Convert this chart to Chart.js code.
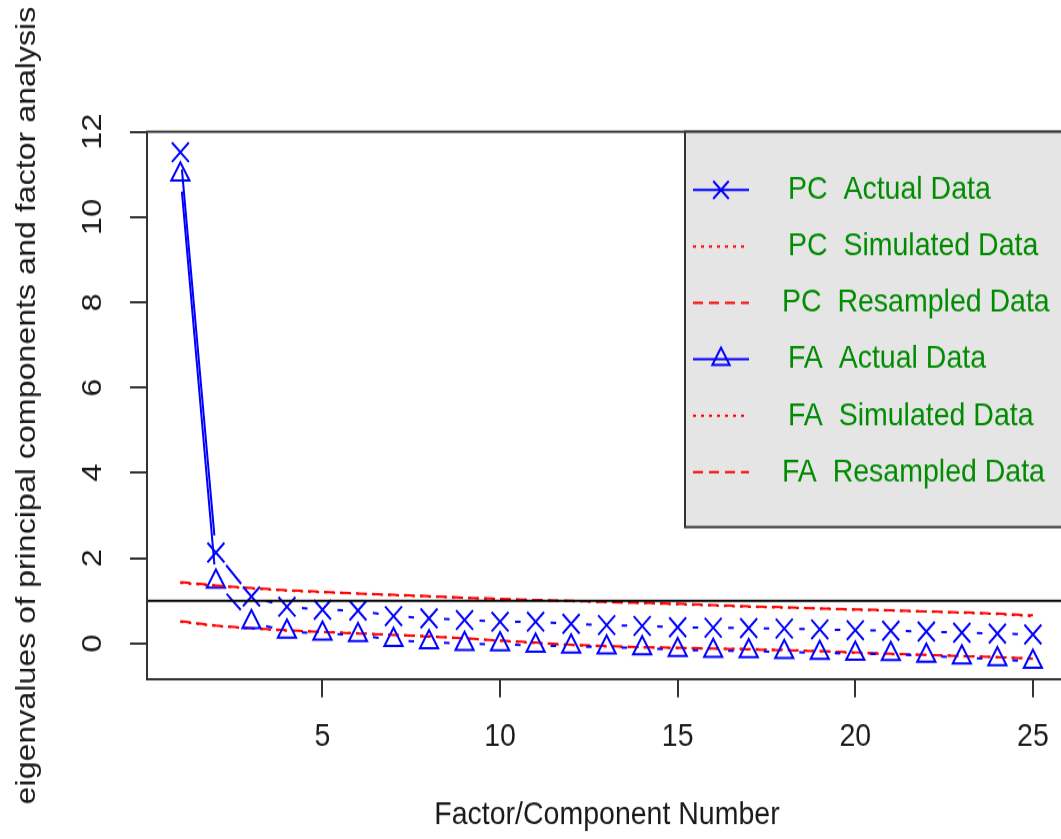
<!DOCTYPE html>
<html>
<head>
<meta charset="utf-8">
<title>Parallel analysis scree plot</title>
<script src="https://cdn.jsdelivr.net/npm/chart.js@4.4.1/dist/chart.umd.min.js"></script>
<style>
  html, body { margin: 0; padding: 0; background: #fff; overflow: hidden; }
  #wrap { width: 1081px; height: 839px; overflow: hidden; }
</style>
</head>
<body>
<div id="wrap">
  <!-- the original picture is stretched vertically, so the canvas is drawn short and scaled up;
       the right edge of the plot box lies just outside the window, as in the original -->
  <canvas id="scree" width="1081" height="730" style="display:block;width:1081px;height:839px;"></canvas>
</div>
<script>
// data (eigenvalues per factor / component)
const components = [1, 2, 3, 4, 5, 6, 7, 8, 9, 10, 11, 12, 13, 14, 15, 16, 17, 18, 19, 20, 21, 22, 23, 24, 25];
const pcActual = [11.52, 2.13, 1.10, 0.86, 0.79, 0.77, 0.64, 0.59, 0.55, 0.51, 0.51, 0.46, 0.43, 0.41, 0.38, 0.37, 0.36, 0.35, 0.33, 0.31, 0.30, 0.28, 0.25, 0.23, 0.21];
const pcSimulated = [1.42, 1.35, 1.29, 1.24, 1.20, 1.17, 1.13, 1.10, 1.07, 1.04, 1.02, 0.99, 0.97, 0.95, 0.92, 0.89, 0.86, 0.84, 0.82, 0.79, 0.77, 0.75, 0.72, 0.69, 0.64];
const pcResampled = [1.44, 1.36, 1.30, 1.25, 1.21, 1.17, 1.14, 1.11, 1.07, 1.05, 1.02, 1.00, 0.97, 0.95, 0.93, 0.90, 0.87, 0.85, 0.82, 0.80, 0.78, 0.75, 0.73, 0.70, 0.66];
const faActual = [11.0, 1.45, 0.50, 0.28, 0.23, 0.20, 0.08, 0.03, -0.01, -0.02, -0.05, -0.07, -0.09, -0.11, -0.15, -0.17, -0.18, -0.20, -0.22, -0.24, -0.25, -0.29, -0.33, -0.37, -0.43];
const faSimulated = [0.51, 0.41, 0.35, 0.30, 0.27, 0.24, 0.20, 0.17, 0.12, 0.06, 0.01, -0.04, -0.07, -0.09, -0.11, -0.12, -0.13, -0.15, -0.18, -0.22, -0.25, -0.27, -0.29, -0.32, -0.35];
const faResampled = [0.52, 0.42, 0.36, 0.31, 0.27, 0.23, 0.20, 0.16, 0.12, 0.07, 0.02, -0.03, -0.06, -0.09, -0.10, -0.12, -0.14, -0.16, -0.18, -0.21, -0.24, -0.27, -0.30, -0.32, -0.36];

const seriesLabels = ['PC  Actual Data', 'PC  Simulated Data', 'PC  Resampled Data',
  'FA  Actual Data', 'FA  Simulated Data', 'FA  Resampled Data'];

const xTickValues = [5, 10, 15, 20, 25];
const xTickLabels = ['5', '10', '15', '20', '25'];
const yTickValues = [0, 2, 4, 6, 8, 10, 12];
const yTickLabels = ['0', '2', '4', '6', '8', '10', '12'];
const kaiserLine = 1;

const xTitle = 'Factor/Component Number';
const yTitle = 'eigenvalues of principal components and factor analysis';

const fontFamily = "'Liberation Sans', Arial, sans-serif";
const fontSize = 28.5;
const blue = '#0000ff';
const red = '#ff0000';
const frameColor = '#333333';
const dotted = [3, 5];
const dashed = [10, 6];

function toPoints(values) {
  return values.map((v, i) => ({ x: components[i], y: v }));
}

// R type="b": segments between points, with a gap around each marker
const gapLinePlugin = {
  id: 'gapLine',
  afterDatasetsDraw(chart) {
    const ctx = chart.ctx;
    const area = chart.chartArea;
    ctx.save();
    ctx.beginPath();
    ctx.rect(area.left, area.top, area.right - area.left, area.bottom - area.top);
    ctx.clip();
    chart.data.datasets.forEach((ds, i) => {
      if (!ds.gapLine) return;
      const pts = chart.getDatasetMeta(i).data;
      ctx.strokeStyle = ds.borderColor;
      ctx.lineWidth = 2;
      ctx.setLineDash([]);
      for (let j = 0; j < pts.length - 1; j++) {
        const a = pts[j], b = pts[j + 1];
        const dx = b.x - a.x, dy = b.y - a.y;
        const len = Math.hypot(dx, dy);
        const gap = 15;
        if (len <= gap * 2) continue;
        const ux = dx / len, uy = dy / len;
        ctx.beginPath();
        ctx.moveTo(a.x + ux * gap, a.y + uy * gap);
        ctx.lineTo(b.x - ux * gap, b.y - uy * gap);
        ctx.stroke();
      }
    });
    // abline(h = 1)
    const yPix = chart.scales.y.getPixelForValue(kaiserLine);
    ctx.strokeStyle = '#000';
    ctx.lineWidth = 2;
    ctx.beginPath();
    ctx.moveTo(area.left, yPix);
    ctx.lineTo(area.right, yPix);
    ctx.stroke();
    ctx.restore();

    // plot frame
    ctx.save();
    ctx.strokeStyle = frameColor;
    ctx.lineWidth = 2;
    ctx.strokeRect(area.left, area.top, area.right - area.left, area.bottom - area.top);
    ctx.restore();
  }
};

// legend box in the top right corner, like legend("topright", bg = "gray90")
const boxLegendPlugin = {
  id: 'boxLegend',
  afterDraw(chart) {
    const ctx = chart.ctx;
    const area = chart.chartArea;
    const left = area.right - 382;
    const top = area.top;
    const bottom = top + 344;
    ctx.save();
    ctx.fillStyle = '#e5e5e5';
    ctx.fillRect(left, top, area.right - left, bottom - top);
    ctx.strokeStyle = frameColor;
    ctx.lineWidth = 2;
    ctx.strokeRect(left, top, area.right - left, bottom - top);

    ctx.font = fontSize + 'px ' + fontFamily;
    ctx.textBaseline = 'middle';
    ctx.textAlign = 'left';
    chart.data.datasets.forEach((ds, i) => {
      const y = top + 50.7 + i * 49.1;
      const x0 = left + 8, x1 = left + 64, xm = left + 36;
      ctx.strokeStyle = ds.legendColor;
      ctx.lineWidth = 2;
      ctx.setLineDash(ds.borderDash || []);
      ctx.beginPath();
      ctx.moveTo(x0, y);
      ctx.lineTo(x1, y);
      ctx.stroke();
      ctx.setLineDash([]);
      if (ds.gapLine) {
        ctx.fillStyle = 'rgba(0,0,0,0)';
        Chart.helpers.drawPoint(ctx, {
          pointStyle: ds.pointStyle,
          radius: ds.pointStyle === 'triangle' ? 10 : 11,
          borderWidth: 2
        }, xm, y);
      }
      ctx.fillStyle = '#008b00';
      ctx.fillText(ds.label, left + (ds.legendIndent || 103), y);
    });
    ctx.restore();
  }
};

const datasets = [
  {
    label: seriesLabels[0], data: toPoints(pcActual), gapLine: true, showLine: false,
    pointStyle: 'crossRot', pointRadius: 12, pointBorderWidth: 2,
    borderColor: blue, pointBorderColor: blue, backgroundColor: blue, legendColor: blue
  },
  {
    label: seriesLabels[1], data: toPoints(pcSimulated), borderColor: red, legendColor: red,
    borderWidth: 2, borderDash: dotted, pointRadius: 0
  },
  {
    label: seriesLabels[2], data: toPoints(pcResampled), borderColor: red, legendColor: red,
    borderWidth: 2, borderDash: dashed, pointRadius: 0, legendIndent: 97
  },
  {
    label: seriesLabels[3], data: toPoints(faActual), gapLine: true, showLine: false,
    pointStyle: 'triangle', pointRadius: 10.5, pointBorderWidth: 2,
    borderColor: blue, pointBorderColor: blue, pointBackgroundColor: 'rgba(0,0,0,0)', legendColor: blue
  },
  {
    label: seriesLabels[4], data: toPoints(faSimulated), borderColor: red, legendColor: red,
    borderWidth: 2, borderDash: dotted, pointRadius: 0
  },
  {
    label: seriesLabels[5], data: toPoints(faResampled), borderColor: red, legendColor: red,
    borderWidth: 2, borderDash: dashed, pointRadius: 0, legendIndent: 97
  }
];

const tickFont = { family: fontFamily, size: fontSize };

new Chart(document.getElementById('scree'), {
  type: 'line',
  data: { datasets },
  options: {
    responsive: false,
    animation: false,
    devicePixelRatio: 1,
    layout: { padding: { top: 114.6, right: 2, left: 0, bottom: 0 } },
    elements: { line: { tension: 0, fill: false } },
    plugins: {
      legend: { display: false },
      tooltip: { enabled: false }
    },
    scales: {
      x: {
        type: 'linear',
        min: 0.06,
        max: 25.96,
        afterBuildTicks(scale) {
          scale.ticks = xTickValues.map(v => ({ value: v }));
        },
        afterFit(scale) {
          scale.height = 139;
          scale.paddingLeft = 0;
          scale.paddingRight = 0;
        },
        border: { display: false },
        grid: { drawOnChartArea: false, drawTicks: true, tickLength: 15.7, color: frameColor, lineWidth: 2 },
        ticks: {
          autoSkip: false,
          maxRotation: 0,
          padding: 17,
          color: '#1a1a1a',
          font: tickFont,
          callback: v => xTickLabels[xTickValues.indexOf(v)]
        },
        title: {
          display: true,
          text: xTitle,
          color: '#1a1a1a',
          font: tickFont,
          padding: { top: 0, bottom: 3.5 }
        }
      },
      y: {
        type: 'linear',
        min: -0.84,
        max: 12,
        afterBuildTicks(scale) {
          scale.ticks = yTickValues.map(v => ({ value: v }));
        },
        afterFit(scale) {
          scale.width = 147;
          scale.paddingTop = 0;
          scale.paddingBottom = 0;
        },
        border: { display: false },
        grid: { drawOnChartArea: false, drawTicks: true, tickLength: 17, color: frameColor, lineWidth: 2 },
        ticks: {
          autoSkip: false,
          minRotation: 90,
          maxRotation: 90,
          crossAlign: 'center',
          padding: 20.6,
          color: '#1a1a1a',
          font: tickFont,
          callback: v => yTickLabels[yTickValues.indexOf(v)]
        },
        title: {
          display: true,
          text: yTitle,
          color: '#1a1a1a',
          font: { family: fontFamily, size: 28 },
          padding: { top: 10, bottom: 0 }
        }
      }
    }
  },
  plugins: [gapLinePlugin, boxLegendPlugin]
});
</script>
</body>
</html>
